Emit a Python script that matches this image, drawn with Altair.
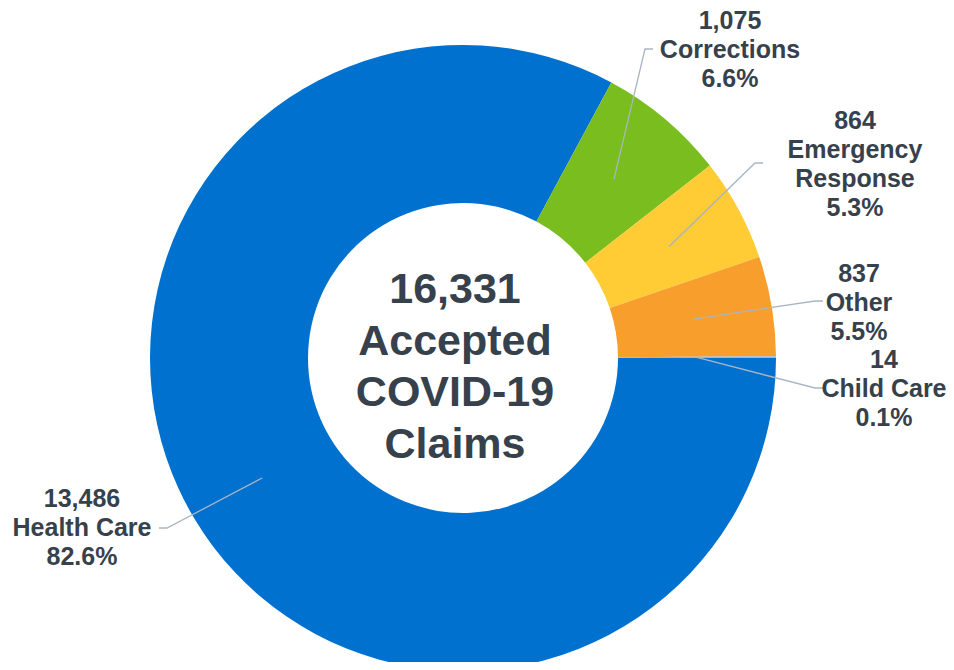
import math
import altair as alt
import pandas as pd

# ---- data ----
categories = ["Health Care", "Corrections", "Emergency Response", "Other", "Child Care"]
claims = [13486, 1075, 864, 837, 14]
pct_labels = ["82.6%", "6.6%", "5.3%", "5.5%", "0.1%"]
name_labels = ["Health Care", "Corrections", "Emergency\nResponse", "Other", "Child Care"]
total_accepted = 16331
center_words = ["Accepted", "COVID-19", "Claims"]

# ---- style / layout ----
colors = ["#0071CE", "#79BD1F", "#FFCC35", "#F89E2C", "#9DB6D6"]
text_color = "#36414B"
leader_color = "#A9B5C4"
W, H = 938, 654
CX, CY = 455, 350          # donut centre (plot coords)
R_OUT, R_IN = 313, 155
R_MID = (R_OUT + R_IN) / 2
M = 8  # page margin

# label anchor (page coords): text x, first baseline y, elbow x/y, side of the elbow tail
label_layout = {
    "Health Care":        dict(tx=82,  ty=507, ex=167, ey=528, side=-1),
    "Corrections":        dict(tx=730, ty=29,  ex=645, ey=49,  side=1),
    "Emergency Response": dict(tx=855, ty=129, ex=755, ey=163, side=1),
    "Other":              dict(tx=859, ty=282, ex=815, ey=301, side=1),
    "Child Care":         dict(tx=884, ty=368, ex=815, ey=388, side=1),
}

total = sum(claims)
df = pd.DataFrame({
    "category": categories,
    "claims": claims,
    "idx": list(range(len(categories))),
    "label": [f"{c:,}\n{n}\n{p}" for c, n, p in zip(claims, name_labels, pct_labels)],
})
df["tx"] = [label_layout[c]["tx"] - M for c in categories]
df["ty"] = [label_layout[c]["ty"] - M for c in categories]

# leader lines: from the slice middle to the label
start_deg = 90.0
rows = []
cum = 0
for c, v in zip(categories, claims):
    mid = math.radians(start_deg + 360.0 * (cum + v / 2) / total)
    cum += v
    sx = CX + R_MID * math.sin(mid)
    sy = CY - R_MID * math.cos(mid)
    lay = label_layout[c]
    ex, ey = lay["ex"] - M, lay["ey"] - M
    fx = ex + 8 * lay["side"]
    for i, (px, py) in enumerate([(sx, sy), (ex, ey), (fx, ey)]):
        rows.append({"category": c, "seq": i, "px": px, "py": py})
lead = pd.DataFrame(rows)

center_df = pd.DataFrame({"text": ["\n".join([f"{total_accepted:,}"] + center_words)]})

theta_scale = alt.Scale(range=[math.pi / 2, math.pi / 2 + 2 * math.pi])

arcs = alt.Chart(df).mark_arc(outerRadius=R_OUT, innerRadius=R_IN).encode(
    theta=alt.Theta("claims:Q", stack=True, scale=theta_scale),
    order=alt.Order("idx:Q"),
    color=alt.Color("category:N", scale=alt.Scale(domain=categories, range=colors), legend=None),
    x=alt.value(CX),
    y=alt.value(CY),
)

leaders = alt.Chart(lead).mark_line(color=leader_color, strokeWidth=1.3).encode(
    x=alt.X("px:Q", scale=None, axis=None),
    y=alt.Y("py:Q", scale=None, axis=None),
    detail="category:N",
    order="seq:Q",
)

labels = alt.Chart(df).mark_text(
    font="Liberation Sans", fontSize=25, fontWeight="bold", color=text_color,
    align="center", baseline="alphabetic", lineBreak="\n", lineHeight=29,
).encode(
    x=alt.X("tx:Q", scale=None, axis=None),
    y=alt.Y("ty:Q", scale=None, axis=None),
    text="label:N",
)

center = alt.Chart(center_df).mark_text(
    font="Liberation Sans", fontSize=43, fontWeight="bold", color=text_color,
    align="center", baseline="alphabetic", lineBreak="\n", lineHeight=51.5,
).encode(
    x=alt.value(455 - M),
    y=alt.value(303 - M),
    text="text:N",
)

chart = alt.layer(arcs, leaders, labels, center).properties(
    width=W, height=H, padding=0,
    autosize=alt.AutoSizeParams(type="none"),
).configure_view(stroke=None)

chart.save("out.html", embed_options={"renderer": "svg", "actions": False})
